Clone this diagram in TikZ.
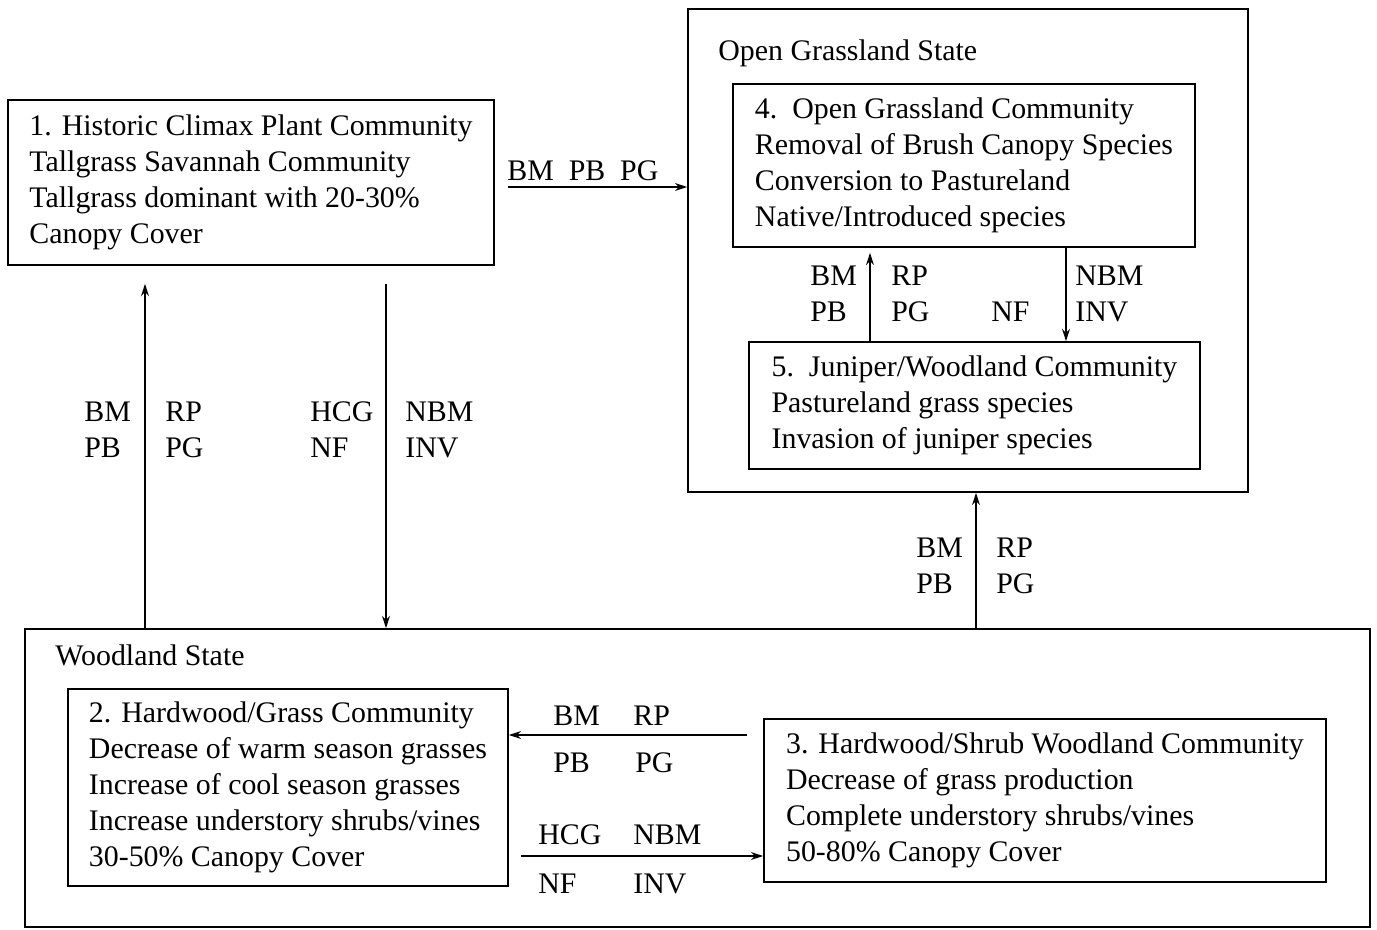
\documentclass[tikz,border=0pt]{standalone}
\usepackage{fontspec}
\setmainfont{Liberation Serif}
\usetikzlibrary{arrows.meta}

\tikzset{
	comm/.style={draw=black, line width=1pt, align=left, inner xsep=0.36cm, inner ysep=0pt, font=\fontsize{17}{20.5}\selectfont},
	state/.style={draw=black, line width=1pt, inner sep=0pt},
	lbl/.style={inner sep=0pt, align=left, font=\fontsize{17}{20.5}\selectfont},
	trans/.style={-{Stealth[length=7pt,width=4.5pt]}, line width=0.8pt},
}

\begin{document}
\begin{tikzpicture}[x=0.02cm, y=-0.02cm]
	
	\useasboundingbox (0, 0) rectangle (1377, 930);
	
	\node[state, minimum width=11.2cm, minimum height=9.66cm] (ogs) at (968, 250.5) {};
	\node[state, minimum width=26.9cm, minimum height=5.96cm] (wood) at (697.5, 778) {};
	\node[lbl, anchor=base west] (ogst) at (718, 60) {Open Grassland State};
	\node[lbl, anchor=base west] (woodt) at (55, 665) {Woodland State};
	
	\node[comm, minimum width=9.72cm, minimum height=3.3cm] (hcpc) at (251, 182.5) {1. Historic Climax Plant Community\\Tallgrass Savannah Community\\Tallgrass dominant with 20-30\%\\Canopy Cover};
	\node[comm, minimum width=9.24cm, minimum height=3.26cm] (ogc) at (964, 165.5) {4.\ \ Open Grassland Community\\Removal of Brush Canopy Species\\Conversion to Pastureland\\Native/Introduced species};
	\node[comm, minimum width=9.02cm, minimum height=2.54cm] (juw) at (974.5, 405.5) {5.\ \ Juniper/Woodland Community\\Pastureland grass species\\Invasion of juniper species};
	\node[comm, minimum width=8.8cm, minimum height=3.94cm] (hgc) at (288, 787.5) {2. Hardwood/Grass Community\\Decrease of warm season grasses\\Increase of cool season grasses\\Increase understory shrubs/vines\\30-50\% Canopy Cover};
	\node[comm, minimum width=11.24cm, minimum height=3.26cm] (hsw) at (1045, 800.5) {3. Hardwood/Shrub Woodland Community\\Decrease of grass production\\Complete understory shrubs/vines\\50-80\% Canopy Cover};
	
	\coordinate (c1) at (145, 0);
	\coordinate (c2) at (386, 0);
	\coordinate (c4) at (870, 0);
	\coordinate (c5) at (1066, 0);
	\coordinate (c6) at (976, 0);
	\coordinate (r1) at (0, 187);
	\coordinate (r2) at (0, 735);
	\coordinate (r3) at (0, 856);
	
	\draw[trans, shorten >=0.36cm] (wood.north -| c1) -- (hcpc.south -| c1);
	\draw[trans, shorten <=0.36cm] (hcpc.south -| c2) -- (wood.north -| c2);
	\draw[trans, shorten <=0.26cm] (hcpc.east |- r1) -- (ogs.west |- r1);
	\draw[trans, shorten >=0.1cm] (juw.north -| c4) -- (ogc.south -| c4);
	\draw[trans] (ogc.south -| c5) -- (juw.north -| c5);
	\draw[trans] (wood.north -| c6) -- (ogs.south -| c6);
	\draw[trans, shorten <=0.32cm] (hsw.west |- r2) -- (hgc.east |- r2);
	\draw[trans, shorten <=0.24cm] (hgc.east |- r3) -- (hsw.west |- r3);
	
	\node[lbl, anchor=west] (l1a) at (84, 430) {BM\\PB};
	\node[lbl, anchor=west] (l1b) at (165, 430) {RP\\PG};
	\node[lbl, anchor=west] (l2a) at (310, 430) {HCG\\NF};
	\node[lbl, anchor=west] (l2b) at (405, 430) {NBM\\INV};
	\node[lbl, anchor=west] (l3) at (507, 171) {BM\ \ PB\ \ PG};
	\node[lbl, anchor=west] (l4a) at (810, 294) {BM\\PB};
	\node[lbl, anchor=west] (l4b) at (891, 294) {RP\\PG};
	\node[lbl, anchor=west] (l4c) at (991, 312) {NF};
	\node[lbl, anchor=west] (l5) at (1075, 294) {NBM\\INV};
	\node[lbl, anchor=west] (l6a) at (916, 566) {BM\\PB};
	\node[lbl, anchor=west] (l6b) at (996, 566) {RP\\PG};
	\node[lbl, anchor=west] (l7a) at (553, 716) {BM};
	\node[lbl, anchor=west] (l7b) at (633, 716) {RP};
	\node[lbl, anchor=west] (l7c) at (553, 763) {PB};
	\node[lbl, anchor=west] (l7d) at (635, 763) {PG};
	\node[lbl, anchor=west] (l8a) at (538, 835) {HCG};
	\node[lbl, anchor=west] (l8b) at (633, 835) {NBM};
	\node[lbl, anchor=west] (l8c) at (538, 884) {NF};
	\node[lbl, anchor=west] (l8d) at (633, 884) {INV};
	
\end{tikzpicture}
\end{document}
